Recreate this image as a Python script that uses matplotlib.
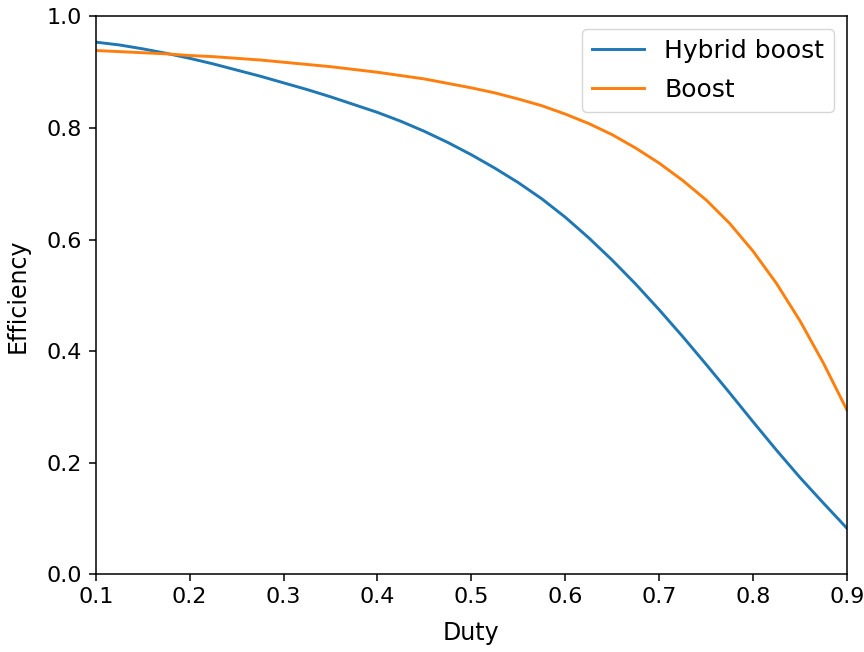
import matplotlib
matplotlib.use("Agg")
import matplotlib.pyplot as plt

# efficiency vs duty cycle
duty = [0.100, 0.125, 0.150, 0.175, 0.200, 0.225, 0.250, 0.275, 0.300,
        0.325, 0.350, 0.375, 0.400, 0.425, 0.450, 0.475, 0.500,
        0.525, 0.550, 0.575, 0.600, 0.625, 0.650, 0.675, 0.700,
        0.725, 0.750, 0.775, 0.800, 0.825, 0.850, 0.875, 0.900]
eff_hybrid = [0.954, 0.949, 0.942, 0.934, 0.925, 0.915, 0.904, 0.893, 0.881,
              0.869, 0.856, 0.842, 0.828, 0.812, 0.794, 0.774, 0.752,
              0.728, 0.702, 0.673, 0.640, 0.603, 0.563, 0.520, 0.474,
              0.426, 0.376, 0.325, 0.273, 0.222, 0.173, 0.127, 0.082]
eff_boost = [0.939, 0.937, 0.935, 0.933, 0.930, 0.928, 0.925, 0.922, 0.918,
             0.914, 0.910, 0.905, 0.900, 0.894, 0.888, 0.880, 0.872,
             0.863, 0.852, 0.840, 0.825, 0.808, 0.788, 0.764, 0.737,
             0.706, 0.671, 0.629, 0.579, 0.521, 0.454, 0.378, 0.294]

fig = plt.figure(figsize=(8.64, 6.52), dpi=100)
ax = fig.add_axes([0.1108, 0.1196, 0.8695, 0.8551])

ax.plot(duty, eff_hybrid, color="#1f77b4", lw=2.1, label="Hybrid boost")
ax.plot(duty, eff_boost, color="#ff7f0e", lw=2.1, label="Boost")

ax.set_xlim(0.1, 0.9)
ax.set_ylim(0.0, 1.0)
ax.set_xlabel("Duty", fontsize=17, labelpad=10)
ax.set_ylabel("Efficiency", fontsize=17, labelpad=12)
ax.tick_params(labelsize=16, length=4.7, width=1.1, pad=5)
for s in ax.spines.values():
    s.set_linewidth(1.1)
ax.legend(fontsize=18, labelspacing=0.6, handlelength=2.1)

fig.savefig("out.png", dpi=100)
